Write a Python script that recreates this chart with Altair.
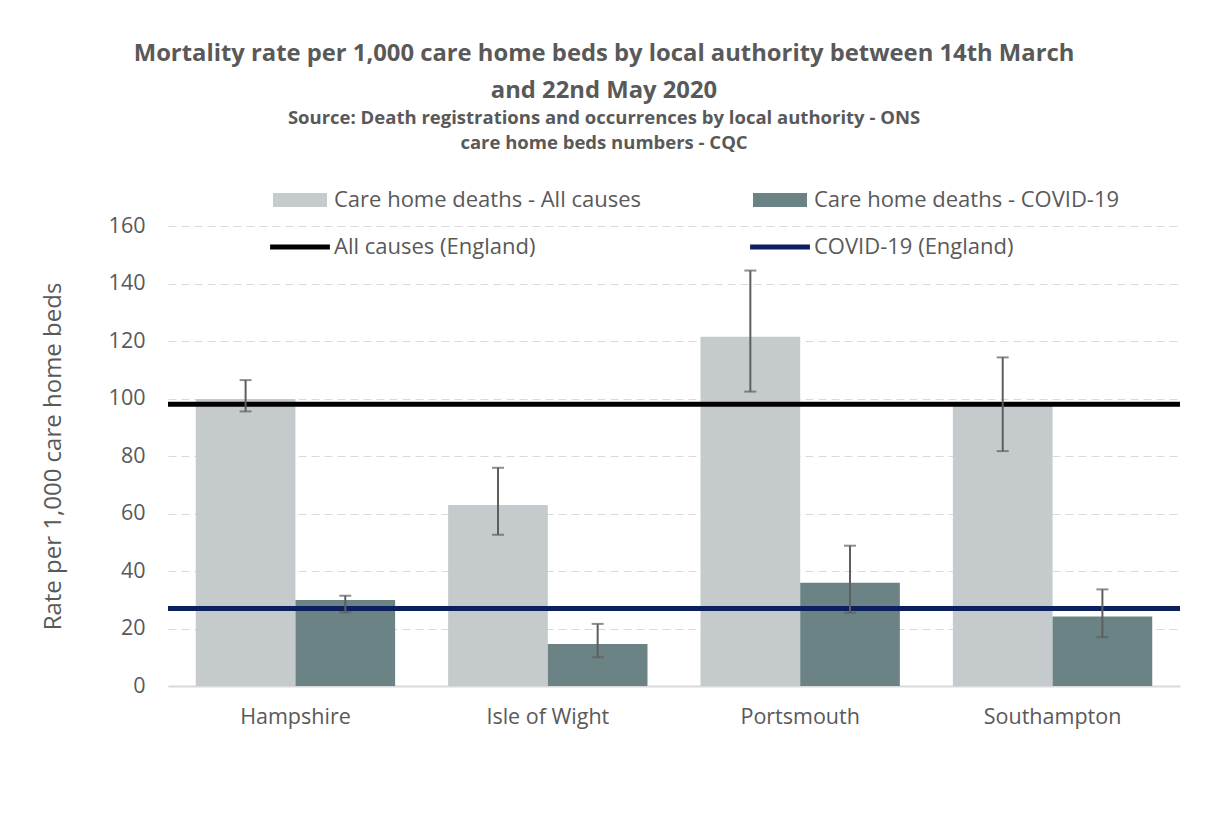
import altair as alt
import pandas as pd

categories = ["Hampshire", "Isle of Wight", "Portsmouth", "Southampton"]
all_causes = [99.8, 63.0, 121.5, 97.5]
all_causes_lo = [95.5, 52.6, 102.4, 81.7]
all_causes_hi = [106.4, 75.9, 144.5, 114.3]
covid = [29.9, 14.6, 35.9, 24.2]
covid_lo = [25.6, 10.0, 25.5, 17.0]
covid_hi = [31.4, 21.6, 48.8, 33.6]
england_all_causes = 98.0
england_covid = 27.0

bar_series = ["Care home deaths - All causes", "Care home deaths - COVID-19"]
line_series = ["All causes (England)", "COVID-19 (England)"]
# legend order (filled column by column)
series = [bar_series[0], line_series[0], bar_series[1], line_series[1]]
series_colors = ["#c5cbcd", "#000000", "#6c8385", "#0c2060"]
y_ticks = [0, 20, 40, 60, 80, 100, 120, 140, 160]

title_lines = ["Mortality rate per 1,000 care home beds by local authority between 14th March",
               "and 22nd May 2020"]
subtitle_lines = ["Source: Death registrations and occurrences by local authority - ONS",
                  "care home beds numbers - CQC"]

rows = []
for i, c in enumerate(categories):
    rows.append({"category": c, "series": bar_series[0], "value": all_causes[i],
                 "lo": all_causes_lo[i], "hi": all_causes_hi[i]})
    rows.append({"category": c, "series": bar_series[1], "value": covid[i],
                 "lo": covid_lo[i], "hi": covid_hi[i]})
bars_df = pd.DataFrame(rows)
eng_df = pd.DataFrame({"series": line_series, "value": [england_all_causes, england_covid]})
legend_df = pd.DataFrame({"series": series})

FONT = "Open Sans"
GREY = "#595959"

y_scale = alt.Scale(domain=[0, 160], nice=False)
y_axis = alt.Axis(title="Rate per 1,000 care home beds", values=y_ticks, grid=True,
                  gridDash=[8, 5], gridColor="#d9d9d9", gridWidth=1, domain=False,
                  ticks=False, labelPadding=23, labelFont=FONT, labelFontSize=21.5,
                  labelColor=GREY, titleFont=FONT, titleFontSize=24,
                  titleFontWeight="normal", titleColor=GREY, titlePadding=43)
x_enc = alt.X("category:N", sort=categories,
              scale=alt.Scale(domain=categories, paddingInner=0.21, paddingOuter=0.11),
              axis=alt.Axis(title=None, labelAngle=0, ticks=False, domain=True,
                            domainColor="#d9d9d9", domainWidth=2, grid=False,
                            labelPadding=20, labelFont=FONT, labelFontSize=21.5,
                            labelColor=GREY))
xoff_enc = alt.XOffset("series:N", scale=alt.Scale(domain=bar_series, paddingInner=0, paddingOuter=0))
color_scale = alt.Scale(domain=series, range=series_colors)

rect_path = "M-1.227,-0.32L1.227,-0.32L1.227,0.32L-1.227,0.32Z"
line_path = "M-1.36,-0.115L1.36,-0.115L1.36,0.115L-1.36,0.115Z"

legend_spec = alt.Legend(title=None, orient="none", legendX=110, legendY=-48,
                         columns=2, columnPadding=109, rowPadding=14,
                         symbolSize=1936, symbolStrokeWidth=0, symbolOpacity=1,
                         labelFont=FONT, labelFontSize=22, labelColor=GREY,
                         labelOffset=12, labelLimit=0)
color_enc = alt.Color("series:N", scale=color_scale, legend=legend_spec)

bars = alt.Chart(bars_df).mark_bar().encode(
    x=x_enc, xOffset=xoff_enc,
    y=alt.Y("value:Q", scale=y_scale, axis=y_axis),
    color=color_enc,
)

eng = alt.Chart(eng_df).mark_rule(strokeWidth=5).encode(
    y=alt.Y("value:Q", scale=y_scale, axis=y_axis),
    color=color_enc,
)

err = alt.Chart(bars_df).mark_rule(color="#5e5e5e", strokeWidth=2).encode(
    x=x_enc, xOffset=xoff_enc,
    y=alt.Y("lo:Q", scale=y_scale, axis=y_axis), y2="hi:Q",
)
cap_lo = alt.Chart(bars_df).mark_tick(color="#5e5e5e", thickness=2, size=12).encode(
    x=x_enc, xOffset=xoff_enc, y=alt.Y("lo:Q", scale=y_scale, axis=y_axis),
)
cap_hi = alt.Chart(bars_df).mark_tick(color="#5e5e5e", thickness=2, size=12).encode(
    x=x_enc, xOffset=xoff_enc, y=alt.Y("hi:Q", scale=y_scale, axis=y_axis),
)

legend_layer = alt.Chart(legend_df).mark_point(filled=True, opacity=0).encode(
    color=color_enc,
    shape=alt.Shape("series:N", scale=alt.Scale(domain=series,
                                                range=[rect_path, line_path, rect_path, line_path]),
                    legend=legend_spec),
)

chart = alt.layer(legend_layer, bars, eng, err, cap_lo, cap_hi).properties(
    width=1012, height=460,
    autosize=alt.AutoSizeParams(type="none"),
    padding={"left": 160, "top": 218, "right": 19, "bottom": 123},
    background="white",
    title=alt.TitleParams(text=title_lines, subtitle=subtitle_lines, anchor="middle",
                          frame="group", dx=-70, font=FONT, fontSize=23.8, fontWeight="bold",
                          color=GREY, lineHeight=37, subtitleFont=FONT, subtitleFontSize=18.5,
                          subtitleFontWeight="bold", subtitleColor=GREY,
                          subtitleLineHeight=25, subtitlePadding=6, offset=26),
).configure_view(stroke=None)

chart.save("out.html", embed_options={"renderer": "svg", "actions": False})
